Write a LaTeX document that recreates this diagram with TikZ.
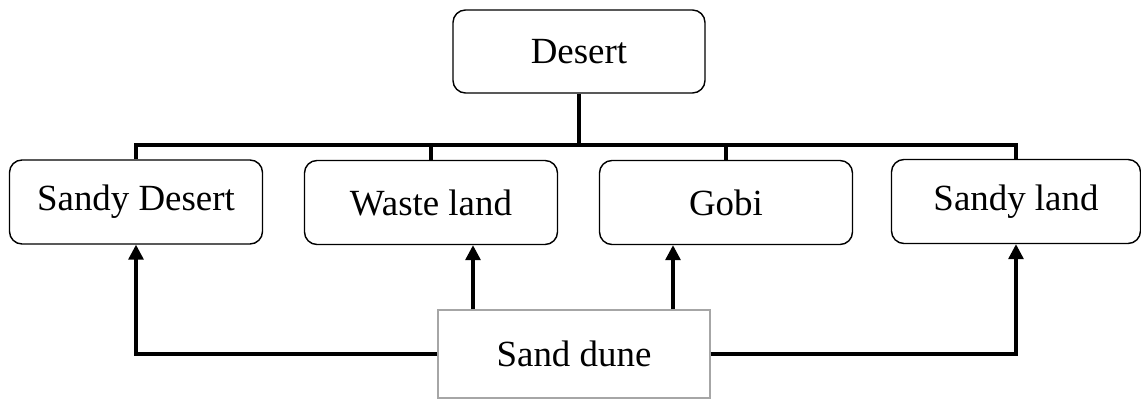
\documentclass[tikz,border=0pt]{standalone}
\usepackage{fontspec}
\setmainfont{Liberation Serif}
\usetikzlibrary{arrows.meta}
\begin{document}
\begin{tikzpicture}[font=\fontsize{21}{24}\selectfont,
    box/.style={draw,rounded corners=0.25cm,line width=0.8pt,minimum width=5.06cm,minimum height=1.68cm,inner sep=0pt},
    bar/.style={line width=2.2pt},
    arr/.style={line width=1.8pt,-{Triangle[width=0.3cm,length=0.3cm]}}]
  \useasboundingbox (0,0) rectangle (22.82,-7.98);
  \node[box,minimum width=5.04cm,minimum height=1.66cm] (desert) at (11.58,-1.03) {Desert};
  \node[box] (sdesert) at (2.72,-4.04) {Sandy Desert};
  \node[box] (waste) at (8.62,-4.05) {Waste land};
  \node[box] (gobi) at (14.52,-4.05) {Gobi};
  \node[box,minimum width=4.98cm] (sland) at (20.32,-4.03) {Sandy land};
  \node[draw=gray!70,line width=0.6pt,minimum width=5.44cm,minimum height=1.76cm,inner sep=0pt] (dune) at (11.48,-7.08) {Sand dune};
  \coordinate (bar) at (0,-2.9);
  % tree from the top
  \draw[bar] (desert.south) -- (desert.south |- bar);
  \draw[bar] (sdesert.north) -- (sdesert.north |- bar) -- (sland.north |- bar) -- (sland.north);
  \draw[bar] (waste.north) -- (waste.north |- bar);
  \draw[bar] (gobi.north) -- (gobi.north |- bar);
  % arrows from the sand dune
  \draw[arr] (dune.west) -| (sdesert.south);
  \draw[arr] (dune.east) -| (sland.south);
  \draw[arr] ([xshift=-2.02cm]dune.north) -- ([xshift=-2.02cm]dune.north |- waste.south);
  \draw[arr] ([xshift=1.98cm]dune.north) -- ([xshift=1.98cm]dune.north |- gobi.south);
\end{tikzpicture}
\end{document}
